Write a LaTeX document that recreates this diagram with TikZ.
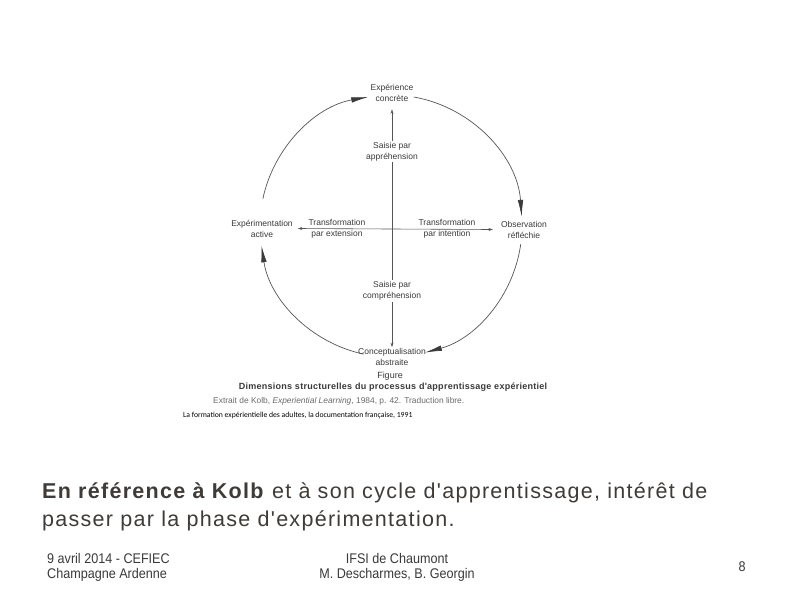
\documentclass[tikz,border=0pt]{standalone}
\usepackage{fontspec}
\setmainfont{Liberation Sans}[Ligatures=TeXOff]
\newfontfamily\calib{Carlito}[Ligatures=TeXOff]
\newfontfamily\narrowfont{Liberation Sans}[FakeStretch=0.9,Ligatures=TeXOff]
\newfontfamily\spacedfont{Liberation Sans}[LetterSpace=6,Ligatures=TeXOff]
\newfontfamily\capfont{Liberation Sans}[LetterSpace=3,Ligatures=TeXOff]
\usetikzlibrary{arrows.meta}
\definecolor{diag}{HTML}{3A3A3A}
\definecolor{linecol}{HTML}{555555}
\definecolor{maintext}{HTML}{3F3B38}
\definecolor{foot}{HTML}{3A3A3A}
\definecolor{extrcol}{HTML}{6A6A6A}
\begin{document}
\begin{tikzpicture}[x=1pt,y=-1pt,
  lbl/.style={font=\fontsize{8.5}{11}\selectfont, text=diag, align=center, inner sep=1pt},
  cyc/.style={draw=linecol, line width=0.7pt, -{Latex[length=17pt,width=5.5pt,color=diag]}},
  axe/.style={draw=linecol, line width=0.6pt},
  axarrow/.style={axe, -{Stealth[length=4.5pt,width=3pt]}},
  footer/.style={font=\narrowfont\fontsize{14}{15.5}\selectfont, text=foot}]
\useasboundingbox[fill=white] (0,0) rectangle (794,595);

% centre of the cycle and of the axes
\coordinate (c) at (391,226);
\coordinate (o) at (392,229);

% labels
\node[lbl] (exp)   at (392,92.5)  {Expérience\\concrète};
\node[lbl] (sapp)  at (392,151.5) {Saisie par\\appréhension};
\node[lbl] (tex)   at (337,228.5) {Transformation\\par extension};
\node[lbl] (tin)   at (447,228.5) {Transformation\\par intention};
\node[lbl] (exa)   at (262,228.5) {Expérimentation\\active};
\node[lbl] (obs)   at (524,229.5) {Observation\\réfléchie};
\node[lbl] (scomp) at (392,291)   {Saisie par\\compréhension};
\node[lbl] (conc)  at (392,357)   {Conceptualisation\\abstraite};

% the cycle
\draw[cyc] ([shift={(-80:131)}]c) arc[start angle=-80, end angle=-4, radius=131];
\draw[cyc] ([shift={(8:131)}]c) arc[start angle=8, end angle=75, radius=131];
\draw[cyc] ([shift={(102:131)}]c) arc[start angle=102, end angle=171.5, radius=131];
\draw[cyc] ([shift={(-168:131)}]c) arc[start angle=-168, end angle=-100, radius=131];

% axes
\draw[axarrow] (sapp.north) -- ([yshift=-7pt]exp.south);
\draw[axe] (sapp.south) -- (scomp.north);
\draw[axarrow] (scomp.south) -- (conc.north);
\draw[axarrow] (o) -- ([xshift=4pt]exa.east);
\draw[axarrow] (o) -- ([xshift=-7pt]obs.west);

% caption
\node[font=\fontsize{9}{10}\selectfont, text=diag] (fig) at (390,376) {Figure};
\node[font=\capfont\bfseries\fontsize{9}{10}\selectfont, text=diag] (dim) at (393,387.5)
  {Dimensions structurelles du processus d'apprentissage expérientiel};
\node[font=\fontsize{8.4}{9}\selectfont, text=extrcol, anchor=west, inner sep=0pt] (extr) at (213,401)
  {Extrait de Kolb, \textit{Experiential Learning}, 1984, p. 42. Traduction libre.};
\node[font=\calib\fontsize{7.7}{9}\selectfont, text=black, anchor=west, inner sep=0pt] (src) at (183,415)
  {La formation expérientielle des adultes, la documentation française, 1991};

% main text
\node[font=\spacedfont\fontsize{21.5}{28.5}\selectfont, text=maintext, anchor=west, align=left, inner sep=0pt] (txt) at (42,507)
  {\textbf{En référence à Kolb} et à son cycle d'apprentissage, intérêt de\\passer par la phase d'expérimentation.};

% footer
\node[footer, anchor=west, align=left, inner sep=0pt] (f1) at (47,567.5) {9 avril 2014 - CEFIEC\\Champagne Ardenne};
\node[footer, align=center, inner sep=0pt] (f2) at (397,567.5) {IFSI de Chaumont\\M. Descharmes, B. Georgin};
\node[footer, inner sep=0pt] (f3) at (742,567) {8};
\end{tikzpicture}
\end{document}
